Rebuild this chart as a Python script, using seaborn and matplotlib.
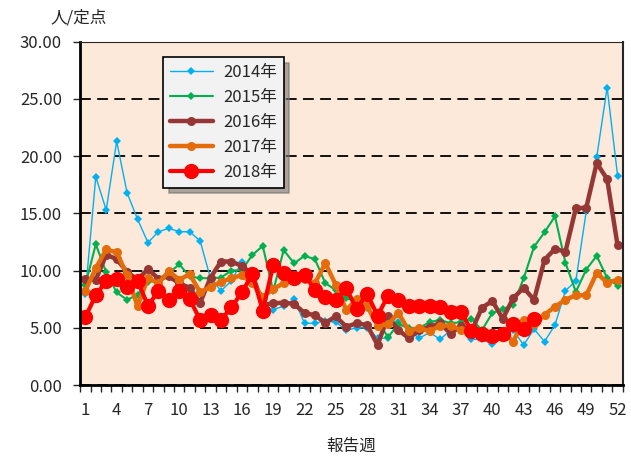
import seaborn as sns
import matplotlib.pyplot as plt
from matplotlib.ticker import MultipleLocator, StrMethodFormatter

# データ (報告週ごとの定点当たり報告数)
weeks = list(range(1, 53))

y2014 = [8.0, 18.2, 15.3, 21.3, 16.8, 14.5, 12.45, 13.4, 13.7, 13.4, 13.4, 12.6, 9.3,
         8.25, 9.1, 10.8, 9.5, 6.7, 6.6, 6.9, 7.5, 5.4, 5.4, 5.6, 5.5, 4.8,
         5.0, 5.0, 4.1, 4.1, 5.5, 4.8, 4.1, 4.6, 4.0, 4.8, 5.1, 4.0, 4.0,
         3.6, 4.3, 4.8, 3.5, 4.9, 3.8, 5.25, 8.25, 9.1, 15.2, 19.9, 26.0, 18.3]
y2015 = [8.75, 12.3, 9.85, 8.1, 7.45, 7.9, 9.0, 9.2, 9.8, 10.55, 9.5, 9.35, 9.33,
         9.4, 10.0, 10.06, 11.37, 12.16, 8.2, 11.8, 10.64, 11.29, 11.0, 8.9, 8.3, 7.6,
         7.3, 6.7, 5.6, 4.2, 5.3, 5.0, 5.0, 5.5, 5.7, 5.4, 5.5, 5.8, 4.8,
         6.3, 6.65, 7.0, 9.33, 12.1, 13.35, 14.75, 10.7, 8.15, 10.1, 11.3, 9.35, 8.7]
y2016 = [9.25, 9.2, 11.4, 11.0, 9.9, 9.2, 10.15, 9.3, 9.5, 8.9, 8.5, 7.2, 9.4,
         10.8, 10.8, 10.4, 9.7, 7.0, 7.15, 7.2, 7.1, 6.3, 6.1, 5.45, 6.0, 5.1,
         5.4, 5.25, 3.5, 6.0, 4.8, 4.1, 4.8, 5.1, 5.4, 4.5, 5.2, 4.7, 6.76,
         7.35, 5.8, 7.6, 8.5, 7.45, 10.95, 11.9, 11.65, 15.45, 15.5, 19.4, 18.0, 12.2]
y2017 = [8.25, 10.2, 11.85, 11.6, 9.6, 6.9, 9.35, 8.9, 9.95, 9.2, 9.7, 8.1, 8.6,
         9.0, 9.35, 9.6, 8.9, 7.7, 8.4, 8.9, 9.2, 9.3, 8.9, 10.65, 8.75, 6.55,
         7.5, 6.9, 5.2, 5.3, 6.3, 4.75, 5.0, 4.7, 5.2, 5.2, 4.8, 4.6, 4.5,
         4.3, 4.6, 3.8, 5.7, 5.3, 6.15, 6.85, 7.45, 7.85, 7.85, 9.8, 8.95, 9.2]
y2018 = [5.95, 7.85, 9.1, 9.3, 8.55, 9.1, 6.95, 8.2, 7.4, 8.2, 7.5, 5.7, 6.1,
         5.7, 6.8, 8.1, 9.7, 6.5, 10.5, 9.8, 9.35, 9.65, 8.3, 7.7, 7.45, 8.45,
         6.65, 8.0, 6.07, 7.8, 7.45, 6.9, 6.9, 6.9, 6.85, 6.4, 6.4, 4.75, 4.5,
         4.3, 4.5, 5.35, 4.9, 5.8]

sns.set_style("ticks")
plt.rcParams['font.family'] = ['Noto Sans CJK JP', 'DejaVu Sans']

fig = plt.figure(figsize=(6.31, 4.59), dpi=100)
ax = fig.add_axes([0.127, 0.161, 0.860, 0.748])
ax.set_facecolor('#FDE9D9')

series = [
    ("2014年", y2014, '#00B0F0', 1.0, 'D', 4.5),
    ("2015年", y2015, '#00B050', 1.5, 'D', 4.5),
    ("2016年", y2016, '#953735', 3.2, 'o', 6.5),
    ("2017年", y2017, '#E46C0A', 3.2, 'o', 6.5),
    ("2018年", y2018, '#FF0000', 3.0, 'o', 11),
]
for label, vals, col, lw, mk, ms in series:
    sns.lineplot(x=weeks[:len(vals)], y=vals, ax=ax, color=col, lw=lw,
                 marker=mk, markersize=ms, markeredgewidth=0,
                 label=label)

ax.set_xlim(0.5, 52.5)
ax.set_ylim(0, 30)
ax.yaxis.set_major_locator(MultipleLocator(5))
ax.yaxis.set_major_formatter(StrMethodFormatter('{x:.2f}'))
ax.set_xticks(weeks[::3])
ax.set_xticks([w + 0.5 for w in range(0, 53)], minor=True)
ax.tick_params(axis='x', which='major', length=0, pad=12, labelsize=12)
ax.tick_params(axis='x', which='minor', length=5, width=1, direction='out')
ax.tick_params(axis='y', which='major', length=5, width=1, direction='out', labelsize=12, pad=8)

ax.set_axisbelow(True)
ax.yaxis.grid(True, linestyle=(0, (6, 3.5)), color='black', lw=1.3)

for side in ['left', 'bottom']:
    ax.spines[side].set_linewidth(2)
    ax.spines[side].set_color('black')
ax.spines['right'].set_visible(True)
ax.spines['right'].set_linewidth(1.5)
ax.spines['top'].set_visible(True)
ax.spines['top'].set_linewidth(0.8)

ax.set_xlabel("報告週", fontsize=12, labelpad=14)
ax.set_ylabel("")
fig.text(0.125, 0.96, "人/定点", fontsize=12, ha='center', va='center')

leg = ax.legend(loc='upper left', bbox_to_anchor=(0.153, 0.955), borderaxespad=0,
                fontsize=12, frameon=True, fancybox=False, framealpha=1,
                facecolor='#F2F2F2', edgecolor='black', handlelength=2.6,
                handletextpad=0.6, labelspacing=0.48, borderpad=0.4,
                shadow={'color': '0.45', 'alpha': 0.6, 'ox': 4, 'oy': -4})
leg.get_frame().set_linewidth(1.2)

fig.savefig("out.png", dpi=100)
